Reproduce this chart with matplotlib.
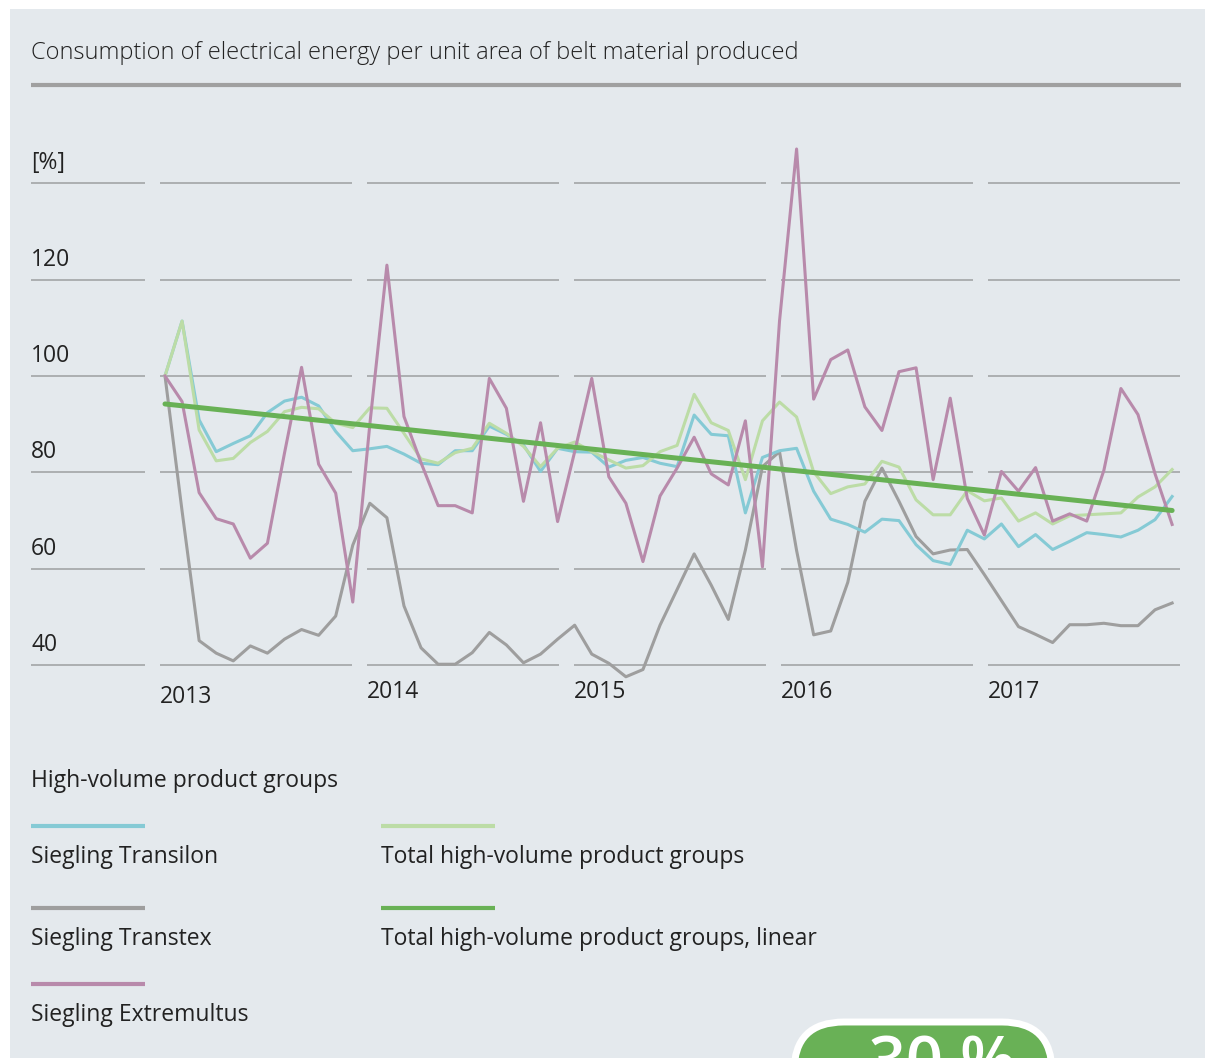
import numpy as np
import matplotlib
matplotlib.use("Agg")
import matplotlib.pyplot as plt
from matplotlib.patches import FancyBboxPatch, Rectangle
import matplotlib.transforms as mtransforms

plt.rcParams['font.family'] = ['Open Sans', 'DejaVu Sans']

# --- data (monthly, Jan 2013 .. Dec 2017, index 0..59) ---
years = ["2013", "2014", "2015", "2016", "2017"]
yticks = [40, 60, 80, 100, 120]

transilon = [100, 111.4, 90.9, 84.3, 86.0, 87.6, 92.4, 94.8, 95.6, 93.8, 88.5, 84.5,
             84.9, 85.4, 83.8, 81.9, 81.6, 84.5, 84.5, 89.6, 87.9, 85.7, 80.2, 85.0,
             84.3, 84.2, 81.1, 82.5, 83.1, 81.9, 81.2, 91.9, 87.9, 87.6, 71.6, 83.1,
             84.5, 85.0, 76.1, 70.3, 69.2, 67.6, 70.3, 70.0, 65.0, 61.7, 60.9, 68.0,
             66.2, 69.3, 64.6, 67.1, 64.0, 65.7, 67.5, 67.1, 66.6, 68.0, 70.2, 75.0]

transtex = [100, 72.0, 45.1, 42.5, 40.9, 44.0, 42.5, 45.4, 47.4, 46.2, 50.2, 64.9,
            73.6, 70.6, 52.3, 43.6, 40.2, 40.2, 42.6, 46.8, 44.2, 40.5, 42.3, 45.4,
            48.3, 42.3, 40.4, 37.6, 39.1, 48.3, 55.7, 63.1, 56.6, 49.5, 63.9, 81.2,
            84.3, 63.8, 46.3, 47.1, 57.2, 74.0, 80.9, 74.0, 66.7, 63.1, 63.9, 64.0,
            58.8, 53.4, 48.0, 46.4, 44.7, 48.4, 48.4, 48.7, 48.2, 48.2, 51.5, 52.9]

extremultus = [100, 94.7, 75.8, 70.4, 69.3, 62.2, 65.3, 84.0, 101.8, 81.7, 75.7, 53.1,
               90.0, 123.0, 91.6, 82.0, 73.1, 73.1, 71.6, 99.5, 93.3, 74.0, 90.3, 69.8,
               84.3, 99.5, 79.1, 73.6, 61.5, 75.1, 80.9, 87.3, 79.7, 77.4, 90.7, 60.4,
               111.4, 147.1, 95.2, 103.4, 105.4, 93.6, 88.7, 100.9, 101.7, 78.5, 95.4, 74.6,
               67.0, 80.2, 76.1, 81.0, 69.9, 71.4, 69.9, 80.4, 97.4, 92.0, 79.7, 69.2]

total = [100, 111.4, 88.8, 82.4, 82.9, 86.2, 88.5, 92.6, 93.5, 93.2, 90.2, 89.3,
         93.4, 93.3, 88.1, 82.8, 81.9, 84.1, 85.0, 90.2, 88.1, 85.4, 81.2, 85.0,
         86.3, 84.3, 82.6, 80.9, 81.4, 84.3, 85.6, 96.2, 90.3, 88.7, 78.5, 90.7,
         94.6, 91.5, 80.1, 75.6, 77.0, 77.6, 82.3, 81.1, 74.3, 71.2, 71.2, 76.2,
         74.1, 74.7, 69.9, 71.6, 69.3, 71.0, 71.2, 71.4, 71.6, 74.9, 77.0, 80.6]

trend_start, trend_end = 94.2, 72.1

months = np.arange(len(total))

W, H = 1205, 1058
BG = "#e4e9ed"
GRID = "#a3a5a7"
TXT = "#222222"
c_transilon = "#85cad5"
c_transtex = "#9e9e9e"
c_extremultus = "#b88aab"
c_total = "#bcdca6"
c_trend = "#68b155"

fig = plt.figure(figsize=(W / 100, H / 100), dpi=100)
fig.patch.set_facecolor("white")

# background / decoration axes in pixel coordinates
bg = fig.add_axes([0, 0, 1, 1])
bg.set_xlim(0, W)
bg.set_ylim(H, 0)
bg.axis("off")
bg.add_patch(Rectangle((10, 9), W - 10, H, facecolor=BG, edgecolor="none"))

bg.text(31, 53, "Consumption of electrical energy per unit area of belt material produced",
        fontsize=17, color=TXT, va="center", ha="left", fontweight="light")
bg.plot([31, 1181], [85, 85], color="#a0a0a0", lw=3, solid_capstyle="butt")

# --- chart axes ---
ax = fig.add_axes([31 / W, 1 - 700 / H, (1181 - 31) / W, (700 - 130) / H])
ax.set_xlim(-7.85, 59.52)
ax.set_ylim(32.78, 151.04)
ax.axis("off")

seg_starts = [-0.29 + 12.13 * k for k in range(len(years))]
for v in yticks + [140]:
    ax.plot([-7.85, -1.17], [v, v], color=GRID, lw=1.2, solid_capstyle="butt", zorder=1)
    for s in seg_starts:
        ax.plot([s, s + 11.25], [v, v], color=GRID, lw=1.2, solid_capstyle="butt", zorder=1)

off = mtransforms.offset_copy(ax.get_yaxis_transform(), fig=fig, x=0, y=8, units="dots")
for v in yticks:
    ax.text(0, v, str(v), transform=off, fontsize=16.5, color=TXT, ha="left", va="bottom")
ax.text(0, 140, "[%]", transform=off, fontsize=16.5, color=TXT, ha="left", va="bottom")

for k, (s, lab) in enumerate(zip(seg_starts, years)):
    dy = -5 if k == 0 else 0
    t = mtransforms.offset_copy(ax.transData, fig=fig, x=0, y=-15 + dy, units="dots")
    ax.text(s, 40, lab, transform=t, fontsize=16.5, color=TXT, ha="left", va="top")

ax.plot(months, transtex, color=c_transtex, lw=2.2, zorder=3, clip_on=False)
ax.plot(months, transilon, color=c_transilon, lw=2.2, zorder=4, clip_on=False)
ax.plot(months, total, color=c_total, lw=2.2, zorder=5, clip_on=False)
ax.plot(months, extremultus, color=c_extremultus, lw=2.2, zorder=6, clip_on=False)
ax.plot([months[0], months[-1]], [trend_start, trend_end], color=c_trend, lw=3.6,
        zorder=7, solid_capstyle="round")

# --- legend ---
bg.text(31, 781, "High-volume product groups", fontsize=16.5, color=TXT, va="center")
legend_items = [
    (31, 826, c_transilon, "Siegling Transilon"),
    (31, 908, c_transtex, "Siegling Transtex"),
    (31, 984, c_extremultus, "Siegling Extremultus"),
    (381, 826, c_total, "Total high-volume product groups"),
    (381, 908, c_trend, "Total high-volume product groups, linear"),
]
for x0, y0, col, lab in legend_items:
    bg.plot([x0, x0 + 114], [y0, y0], color=col, lw=3, solid_capstyle="butt")
    bg.text(x0, y0 + 31, lab, fontsize=16.5, color=TXT, va="center")

# --- badge (cut off by the bottom edge, as in the source) ---
bg.add_patch(FancyBboxPatch((794, 1022), 258, 120, boxstyle="round,pad=0,rounding_size=50",
                            facecolor="#69b156", edgecolor="white", lw=5, clip_on=False))
bg.text(926, 1034, "\u201330 %", fontsize=47, color="white", fontweight="semibold",
        ha="center", va="top")

fig.savefig("out.png", dpi=100, facecolor=fig.get_facecolor())
